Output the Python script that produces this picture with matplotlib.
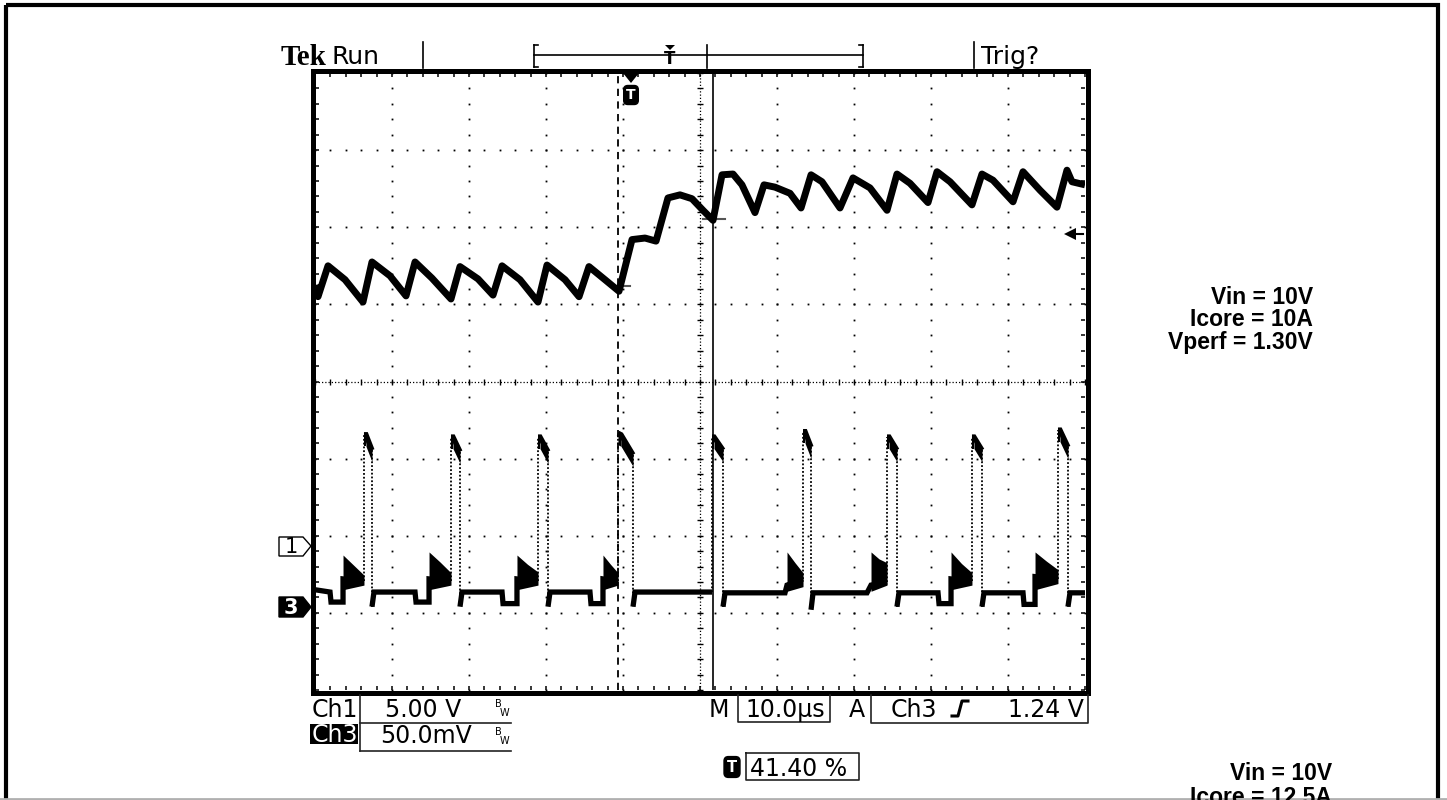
import numpy as np
import matplotlib.pyplot as plt
from matplotlib.patches import Rectangle, Polygon

# Scope capture: 10 us/div, traces given in time (us) and screen divisions
# Ch3 - output voltage ripple with load step
ch3_t = [0.00, 0.39, 1.69, 3.90, 6.23, 7.40, 9.74, 11.82, 12.99, 15.19, 17.66,
         18.83, 21.17, 23.12, 24.29, 26.62, 28.96, 30.13, 32.47, 34.29, 35.58,
         37.66, 39.48, 41.17, 42.86, 44.29, 45.84, 47.40, 48.96, 50.39, 51.69,
         52.86, 54.29, 55.45, 57.14, 58.31, 59.74, 61.69, 63.12, 64.42, 65.84,
         68.18, 69.87, 72.08, 74.29, 75.58, 77.27, 79.61, 80.78, 82.47, 85.32,
         86.62, 88.05, 90.65, 91.95, 94.16, 96.36, 97.66, 98.31, 100.0]
ch3_div = [1.25, 1.10, 1.50, 1.32, 1.03, 1.55, 1.37, 1.11, 1.55, 1.34, 1.07,
           1.49, 1.33, 1.12, 1.50, 1.32, 1.03, 1.51, 1.32, 1.10, 1.49,
           1.32, 1.17, 1.84, 1.86, 1.82, 2.38, 2.42, 2.37, 2.22, 2.09,
           2.68, 2.69, 2.55, 2.19, 2.55, 2.52, 2.44, 2.25, 2.68, 2.59,
           2.25, 2.64, 2.51, 2.22, 2.69, 2.57, 2.32, 2.72, 2.59, 2.29,
           2.69, 2.61, 2.33, 2.72, 2.48, 2.26, 2.74, 2.59, 2.55]

# Ch1 - phase switch node
ch1_t = [0.00, 1.95, 2.08, 3.64, 3.64, 6.36, 6.36, 6.62, 7.40, 7.40, 7.66,
         12.99, 13.12, 14.81, 14.81, 17.66, 17.66, 17.92, 18.83, 18.83, 19.09,
         24.29, 24.42, 26.23, 26.23, 28.96, 28.96, 29.22, 30.26, 30.26, 30.52,
         35.71, 35.84, 37.40, 37.40, 39.35, 39.35, 39.74, 41.30, 41.30, 41.56,
         51.56, 51.56, 51.82, 52.99, 52.99, 53.25,
         61.04, 61.30, 63.38, 63.38, 63.64, 64.42, 64.42, 64.68,
         71.69, 72.21, 74.29, 74.29, 74.55, 75.58, 75.58, 75.84,
         80.91, 81.04, 82.60, 82.60, 85.32, 85.32, 85.58, 86.62, 86.62, 86.88,
         91.95, 92.08, 93.51, 93.51, 96.49, 96.49, 96.75, 97.79, 97.79, 98.05, 100.0]
ch1_div = [-2.70, -2.73, -2.86, -2.86, -2.56, -2.59, -0.69, -0.69, -0.89, -2.92, -2.73,
           -2.73, -2.86, -2.86, -2.56, -2.59, -0.72, -0.72, -0.91, -2.92, -2.73,
           -2.73, -2.88, -2.88, -2.56, -2.59, -0.72, -0.72, -0.91, -2.92, -2.73,
           -2.73, -2.88, -2.88, -2.56, -2.59, -0.67, -0.69, -0.95, -2.92, -2.73,
           -2.73, -0.72, -0.72, -0.89, -2.92, -2.74,
           -2.74, -2.64, -2.56, -0.65, -0.65, -0.85, -2.96, -2.74,
           -2.74, -2.64, -2.60, -0.72, -0.72, -0.89, -2.92, -2.74,
           -2.74, -2.88, -2.88, -2.56, -2.59, -0.72, -0.72, -0.89, -2.92, -2.74,
           -2.74, -2.89, -2.89, -2.53, -2.56, -0.63, -0.63, -0.85, -2.92, -2.74, -2.74]

# ringing bursts on Ch1 just before each pulse
ring_start = [3.64, 14.81, 26.23, 37.40, 61.30, 72.21, 82.60, 93.51]
ring_end = [6.36, 17.66, 28.96, 39.35, 63.38, 74.29, 85.32, 96.49]
ring_top_start = [-2.25, -2.21, -2.25, -2.25, -2.21, -2.21, -2.21, -2.21]
ring_top_mid = [-2.38, -2.34, -2.37, -2.37, -2.35, -2.30, -2.36, -2.33]
ring_top_end = [-2.51, -2.48, -2.47, -2.48, -2.48, -2.35, -2.48, -2.44]
ring_bot_start = [-2.70, -2.70, -2.70, -2.70, -2.72, -2.72, -2.70, -2.70]
ring_bot_end = [-2.64, -2.64, -2.64, -2.64, -2.66, -2.64, -2.64, -2.62]

trig_time = 39.35
cursor_time = 51.69
cross_t = [(38.3, 40.9), (50.4, 53.2)]
cross_div = [1.24, 2.11]
trig_level_div = 1.91

screen_font = 'DejaVu Sans'
note_font = 'Liberation Sans'

fig = plt.figure(figsize=(14.47, 8.0), dpi=100)
bg = fig.add_axes([0, 0, 1, 1])
bg.set_xlim(0, 1447)
bg.set_ylim(800, 0)
bg.axis('off')

# page frame
bg.add_patch(Rectangle((5.5, 4.5), 1432, 830, fill=False, lw=3, ec='black'))
bg.plot([0, 1447], [798.5, 798.5], color='#b0b0b0', lw=2)

# scope screen border
bg.add_patch(Rectangle((312.5, 70.5), 775, 622, fill=False, lw=3.6, ec='black'))

# top status bar
bg.text(281, 65, 'Tek', family='Liberation Serif', weight='bold', fontsize=21)
bg.text(331, 64, 'Run', family=screen_font, fontsize=18)
bg.plot([423, 423], [42, 68], color='black', lw=1.2)
bg.plot([534, 534], [45, 67], color='black', lw=1.2)
bg.plot([863, 863], [45, 67], color='black', lw=1.2)
bg.plot([534, 538], [45, 45], color='black', lw=1.2)
bg.plot([859, 863], [45, 45], color='black', lw=1.2)
bg.plot([534, 538], [67, 67], color='black', lw=1.2)
bg.plot([859, 863], [67, 67], color='black', lw=1.2)
bg.plot([534, 863], [55, 55], color='black', lw=1.2)
bg.plot([707, 707], [45, 68], color='black', lw=1.2)
bg.add_patch(Polygon([[665, 45], [675, 45], [670, 50]], fc='black', lw=0))
bg.text(670, 59, 'T', family='DejaVu Sans', weight='bold', fontsize=12,
        ha='center', va='center')
bg.plot([974, 974], [42, 68], color='black', lw=1.2)
bg.text(981, 64, 'Trig?', family=screen_font, fontsize=18)

# trigger position marker
bg.add_patch(Polygon([[623, 73], [639, 73], [631, 83]], fc='black', lw=0))
bg.text(631, 95, 'T', color='white', family='DejaVu Sans', weight='bold', fontsize=10,
        ha='center', va='center',
        bbox=dict(boxstyle='round,pad=0.18,rounding_size=0.3', fc='black', ec='black'))

# channel ground markers
bg.add_patch(Polygon([[279, 537], [303, 537], [311, 546], [303, 556], [279, 556]],
                     fc='white', ec='black', lw=1))
bg.text(291, 547, '1', family=screen_font, fontsize=15, ha='center', va='center')
bg.add_patch(Polygon([[279, 597], [303, 597], [311, 607], [303, 617], [279, 617]],
                     fc='black', ec='black', lw=1))
bg.text(291, 608, '3', family=screen_font, fontsize=15, weight='bold', color='white',
        ha='center', va='center')

# bottom readouts
box_col = '#222222'
bg.text(312, 717, 'Ch1', family=screen_font, fontsize=17)
bg.add_patch(Rectangle((310, 724), 48, 20, fc='black', lw=0))
bg.text(312, 742, 'Ch3', family=screen_font, fontsize=17, color='white')
bg.plot([360, 360], [695, 751], color=box_col, lw=1.2)
bg.plot([360, 511], [723, 723], color=box_col, lw=1.2)
bg.plot([360, 511], [751, 751], color=box_col, lw=1.2)
bg.text(385, 717, '5.00 V', family=screen_font, fontsize=17)
bg.text(380, 743, '50.0mV', family=screen_font, fontsize=17)
for yb in (707, 735):
    bg.text(495, yb, 'B', family=screen_font, fontsize=7)
    bg.text(500, yb + 9, 'W', family=screen_font, fontsize=7)

bg.text(709, 717, 'M', family=screen_font, fontsize=17)
bg.plot([738, 738, 830, 830], [695, 722, 722, 695], color=box_col, lw=1.2)
bg.text(745, 717, '10.0µs', family=screen_font, fontsize=17)
bg.text(849, 717, 'A', family=screen_font, fontsize=17)
bg.plot([871, 871, 1088, 1088], [695, 723, 723, 695], color=box_col, lw=1.2)
bg.text(891, 717, 'Ch3', family=screen_font, fontsize=17)
bg.plot([952, 958, 962, 968], [716, 716, 701, 701], color='black', lw=2.2)
bg.text(1084, 717, '1.24 V', family=screen_font, fontsize=17, ha='right')

bg.text(732, 767, 'T', color='white', family='DejaVu Sans', weight='bold', fontsize=10.5,
        ha='center', va='center',
        bbox=dict(boxstyle='round,pad=0.2,rounding_size=0.3', fc='black', ec='black'))
bg.plot([746, 859, 859, 746, 746], [753, 753, 780, 780, 753], color=box_col, lw=1.2)
bg.text(750, 776, '41.40 %', family=screen_font, fontsize=17)

# test conditions
for i, s in enumerate(['Vin = 10V', 'Icore = 10A', 'Vperf = 1.30V']):
    bg.text(1313, 298 + 22 * i, s, family=note_font, weight='bold',
            fontsize=16.5, ha='right', va='center')
for i, s in enumerate(['Vin = 10V', 'Icore = 12.5A']):
    bg.text(1332, 773 + 24 * i, s, family=note_font, weight='bold',
            fontsize=16.5, ha='right', va='center')

# scope graticule and traces
ax = fig.add_axes([315 / 1447, 1 - 690 / 800, 770 / 1447, 617 / 800])
ax.set_xlim(0, 100)
ax.set_ylim(-4, 4)
ax.patch.set_alpha(0)
for sp in ax.spines.values():
    sp.set_visible(False)

minor_t = np.arange(0, 100.01, 2)
minor_d = np.arange(-4, 4.01, 0.2)
ax.set_xticks(minor_t)
ax.set_yticks(minor_d)
ax.tick_params(direction='in', length=3, width=1.1, top=True, right=True,
               labelbottom=False, labelleft=False)

for gt in range(10, 100, 10):
    if gt == 50:
        continue
    ax.plot(np.full(minor_d.size, gt), minor_d, ls='none', marker='s', ms=1.3,
            mew=0, color='black')
for gd in range(-3, 4):
    if gd == 0:
        continue
    ax.plot(minor_t, np.full(minor_t.size, gd), ls='none', marker='s', ms=1.3,
            mew=0, color='black')
ax.axvline(50, color='black', lw=0.9, ls=(0, (1, 1.6)))
ax.plot(np.full(minor_d.size, 50), minor_d, ls='none', marker='_', ms=5,
        mew=1, color='black')
ax.axhline(0, color='black', lw=0.9, ls=(0, (1, 1.6)))
ax.plot(minor_t, np.zeros(minor_t.size), ls='none', marker='|', ms=5,
        mew=1, color='black')

# trigger and cursor lines
ax.axvline(trig_time, color='black', lw=1.3, ls=(0, (4, 3)))
ax.axvline(cursor_time, color='black', lw=1.2)
for (ta, tb), cd in zip(cross_t, cross_div):
    ax.plot([ta, tb], [cd, cd], color='#555555', lw=1.5)
ax.plot([98.0, 99.7], [trig_level_div, trig_level_div], color='black', lw=1.5)
ax.plot(98.0, trig_level_div, marker='<', ms=9, color='black', mew=0)

# Ch3 trace
ax.plot(ch3_t, ch3_div, color='black', lw=5, solid_joinstyle='round',
        solid_capstyle='butt')

# Ch1 trace: flat parts solid, fast edges dotted
t1 = np.array(ch1_t)
v1 = np.array(ch1_div)
jump = np.abs(np.diff(v1)) > 1.0
xs, ys = [t1[0]], [v1[0]]
for i in range(1, len(t1)):
    if jump[i - 1]:
        xs.append(np.nan)
        ys.append(np.nan)
    xs.append(t1[i])
    ys.append(v1[i])
ax.plot(xs, ys, color='black', lw=3.8, solid_joinstyle='miter', solid_capstyle='butt')
for i in np.where(jump)[0]:
    ax.plot(t1[i:i + 2], v1[i:i + 2], color='black', lw=1.3, ls=(0, (1, 1.1)))
# thick, noisy pulse tops
for i in range(len(t1) - 1):
    if v1[i] > -1.5 and v1[i + 1] > -1.5:
        ax.fill_between(t1[i:i + 2], v1[i:i + 2] - 0.15, v1[i:i + 2] + 0.02,
                        color='black', lw=0)

for s, e, ts, tm, te, bs, be in zip(ring_start, ring_end, ring_top_start, ring_top_mid,
                                    ring_top_end, ring_bot_start, ring_bot_end):
    ax.fill_between([s, (s + e) / 2, e], [bs, (bs + be) / 2, be], [ts, tm, te],
                    color='black', lw=0)

fig.savefig('out.png', dpi=100)
